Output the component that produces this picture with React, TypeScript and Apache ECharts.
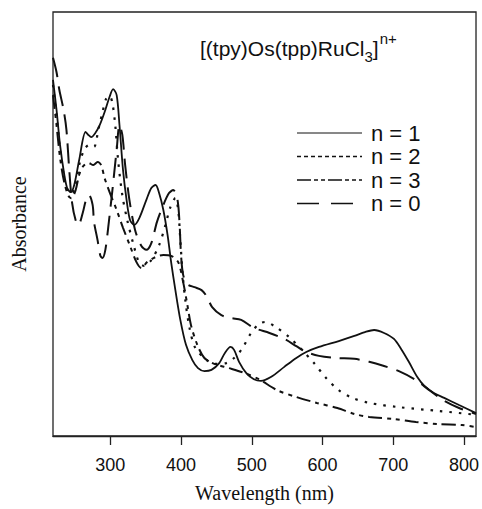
import React, { useEffect, useRef } from "react";
import * as echarts from "echarts";

// x-axis tick labels (nm)
const xTicks = [300, 400, 500, 600, 700, 800];

// n = 1 (solid)
const wl1 = [219,224,229,235,239,244,249,256,265,269,273,279,285,292,299,304,309,313,318,323,328,334,341,351,358,364,369,375,381,386,392,399,407,416,424,433,443,454,462,470,475,482,492,503,513,527,546,563,577,595,623,645,660,673,687,701,712,722,734,744,758,772,793,817];
const ab1 = [0.840,0.769,0.686,0.616,0.585,0.575,0.592,0.651,0.717,0.710,0.705,0.715,0.733,0.764,0.800,0.818,0.804,0.733,0.627,0.557,0.509,0.498,0.514,0.557,0.585,0.592,0.573,0.533,0.474,0.410,0.344,0.274,0.215,0.179,0.160,0.153,0.156,0.172,0.196,0.210,0.203,0.175,0.149,0.134,0.130,0.139,0.163,0.184,0.198,0.210,0.224,0.236,0.245,0.250,0.243,0.229,0.203,0.175,0.139,0.118,0.101,0.090,0.073,0.054];

// n = 2 (dotted)
const wl2 = [219,224,229,235,241,245,251,256,263,270,277,283,289,294,299,303,307,311,317,324,333,341,348,358,369,378,385,392,396,399,402,406,412,420,433,447,464,475,486,499,510,519,532,553,571,588,605,623,642,666,708,765,817];
const ab2 = [0.828,0.757,0.675,0.608,0.575,0.571,0.592,0.639,0.675,0.686,0.682,0.722,0.764,0.795,0.802,0.785,0.733,0.651,0.568,0.509,0.450,0.408,0.401,0.415,0.450,0.498,0.540,0.561,0.533,0.462,0.387,0.321,0.255,0.208,0.184,0.170,0.172,0.184,0.205,0.243,0.264,0.269,0.259,0.233,0.203,0.172,0.137,0.108,0.090,0.078,0.068,0.059,0.050];

// n = 3 (dash-dot)
const wl3 = [219,224,229,235,241,245,251,256,262,269,276,282,287,292,299,309,318,328,337,344,352,364,375,386,396,403,409,414,423,433,447,468,489,510,536,563,592,621,645,666,701,732,765,797,817];
const ab3 = [0.804,0.733,0.656,0.597,0.566,0.561,0.580,0.616,0.637,0.644,0.639,0.646,0.639,0.608,0.575,0.533,0.491,0.448,0.410,0.396,0.410,0.422,0.427,0.425,0.410,0.363,0.309,0.262,0.215,0.184,0.170,0.160,0.149,0.134,0.108,0.092,0.078,0.066,0.052,0.045,0.040,0.033,0.028,0.026,0.021];

// n = 0 (long dash)
const wl0 = [219,224,228,234,238,242,246,251,255,261,266,270,275,277,282,286,289,293,297,303,309,313,317,321,327,335,344,351,358,366,375,383,389,395,398,400,403,409,419,429,436,444,457,471,485,503,525,546,563,577,595,619,645,666,687,708,732,751,772,793,817];
const ab0 = [0.892,0.858,0.816,0.769,0.722,0.627,0.550,0.509,0.498,0.526,0.559,0.568,0.545,0.505,0.462,0.425,0.420,0.439,0.491,0.580,0.675,0.733,0.710,0.639,0.557,0.486,0.448,0.439,0.455,0.505,0.545,0.573,0.580,0.557,0.498,0.427,0.380,0.358,0.351,0.344,0.330,0.304,0.285,0.278,0.274,0.255,0.243,0.229,0.212,0.198,0.189,0.184,0.182,0.175,0.165,0.153,0.132,0.108,0.083,0.066,0.052];

const legendLabels = ["n = 1", "n = 2", "n = 3", "n = 0"];
const titleMain = "[(tpy)Os(tpp)RuCl";
const titleSub = "3";
const titleClose = "]";
const titleSup = "n+";

const pairs = (x: number[], y: number[]) => x.map((v, i) => [v, y[i]]);

const SANS = "Liberation Sans, Arial, sans-serif";
const SERIF = "Liberation Serif, Times New Roman, serif";

function measure(txt: string, font: string) {
  const c = document.createElement("canvas").getContext("2d");
  if (!c) return txt.length * 10;
  c.font = font;
  return c.measureText(txt).width;
}

export default function App() {
  const ref = useRef<HTMLDivElement>(null);
  useEffect(() => {
    if (!ref.current) return;
    const chart = echarts.init(ref.current, null, { renderer: "svg" });
    const ink = "#111";
    const seriesData = [pairs(wl1, ab1), pairs(wl2, ab2), pairs(wl3, ab3), pairs(wl0, ab0)];
    const styles: any[] = [
      { width: 1.8, type: "solid" },
      { width: 2.2, type: [2.5, 7] },
      { width: 2, type: [14, 5, 4, 5, 4, 5] },
      { width: 2, type: [20, 9] },
    ];
    const legendDash: any[] = [null, [4, 3], [14, 3, 4, 3, 4, 3], [22, 12]];
    const legendWidth = [1, 1.3, 1.5, 1.5];

    const tFont = 21;
    const sFont = 15;
    const tx = 200;
    const tyMid = 48;
    const w1 = measure(titleMain, `${tFont}px Liberation Sans`);
    const w2 = measure(titleSub, `${sFont}px Liberation Sans`);
    const w3 = measure(titleClose, `${tFont}px Liberation Sans`);

    const graphics: any[] = [
      { type: "text", x: tx, y: tyMid, style: { text: titleMain, fontSize: tFont, fontFamily: SANS, fill: ink, verticalAlign: "middle" } },
      { type: "text", x: tx + w1, y: tyMid + 8, style: { text: titleSub, fontSize: sFont, fontFamily: SANS, fill: ink, verticalAlign: "middle" } },
      { type: "text", x: tx + w1 + w2, y: tyMid, style: { text: titleClose, fontSize: tFont, fontFamily: SANS, fill: ink, verticalAlign: "middle" } },
      { type: "text", x: tx + w1 + w2 + w3 + 1, y: tyMid - 10, style: { text: titleSup, fontSize: sFont, fontFamily: SANS, fill: ink, verticalAlign: "middle" } },
    ];
    const legY0 = 133;
    const legStep = 23.5;
    legendLabels.forEach((lab, i) => {
      const y = legY0 + i * legStep;
      graphics.push({
        type: "line",
        shape: { x1: 297, y1: y, x2: 362, y2: y },
        style: { stroke: ink, lineWidth: legendWidth[i], lineDash: legendDash[i] || undefined },
      });
      graphics.push({
        type: "text",
        x: 371,
        y: y,
        style: { text: lab, fontSize: 22, fontFamily: SANS, fill: ink, verticalAlign: "middle" },
      });
    });

    chart.setOption({
      animation: false,
      grid: { left: 53, right: 5, top: 12, bottom: 73, show: true, borderColor: "#222", borderWidth: 1.3, backgroundColor: "transparent" },
      xAxis: {
        type: "value",
        min: 219,
        max: 817,
        axisLine: { show: true, lineStyle: { color: "#222", width: 1.3 } },
        axisTick: { show: true, customValues: xTicks, length: 9, inside: false, lineStyle: { color: "#222", width: 1.3 } },
        axisLabel: { customValues: xTicks, fontSize: 18, color: ink, fontFamily: SANS, margin: 20 },
        splitLine: { show: false },
        name: "Wavelength (nm)",
        nameLocation: "middle",
        nameGap: 47,
        nameTextStyle: { fontFamily: SERIF, fontSize: 20, color: ink },
      },
      yAxis: {
        type: "value",
        min: 0,
        max: 1,
        axisLine: { show: false },
        axisTick: { show: false },
        axisLabel: { show: false },
        splitLine: { show: false },
        name: "Absorbance",
        nameLocation: "middle",
        nameGap: 24,
        nameRotate: 90,
        nameTextStyle: { fontFamily: SERIF, fontSize: 20, color: ink },
      },
      series: seriesData.map((d, i) => ({
        type: "line",
        data: d,
        showSymbol: false,
        smooth: 0.3,
        clip: true,
        lineStyle: { color: ink, width: styles[i].width, type: styles[i].type },
      })),
      graphic: graphics,
    });
    return () => chart.dispose();
  }, []);
  return <div ref={ref} style={{ position: "absolute", left: 0, top: 0, width: 482, height: 509, background: "#fff" }} />;
}
